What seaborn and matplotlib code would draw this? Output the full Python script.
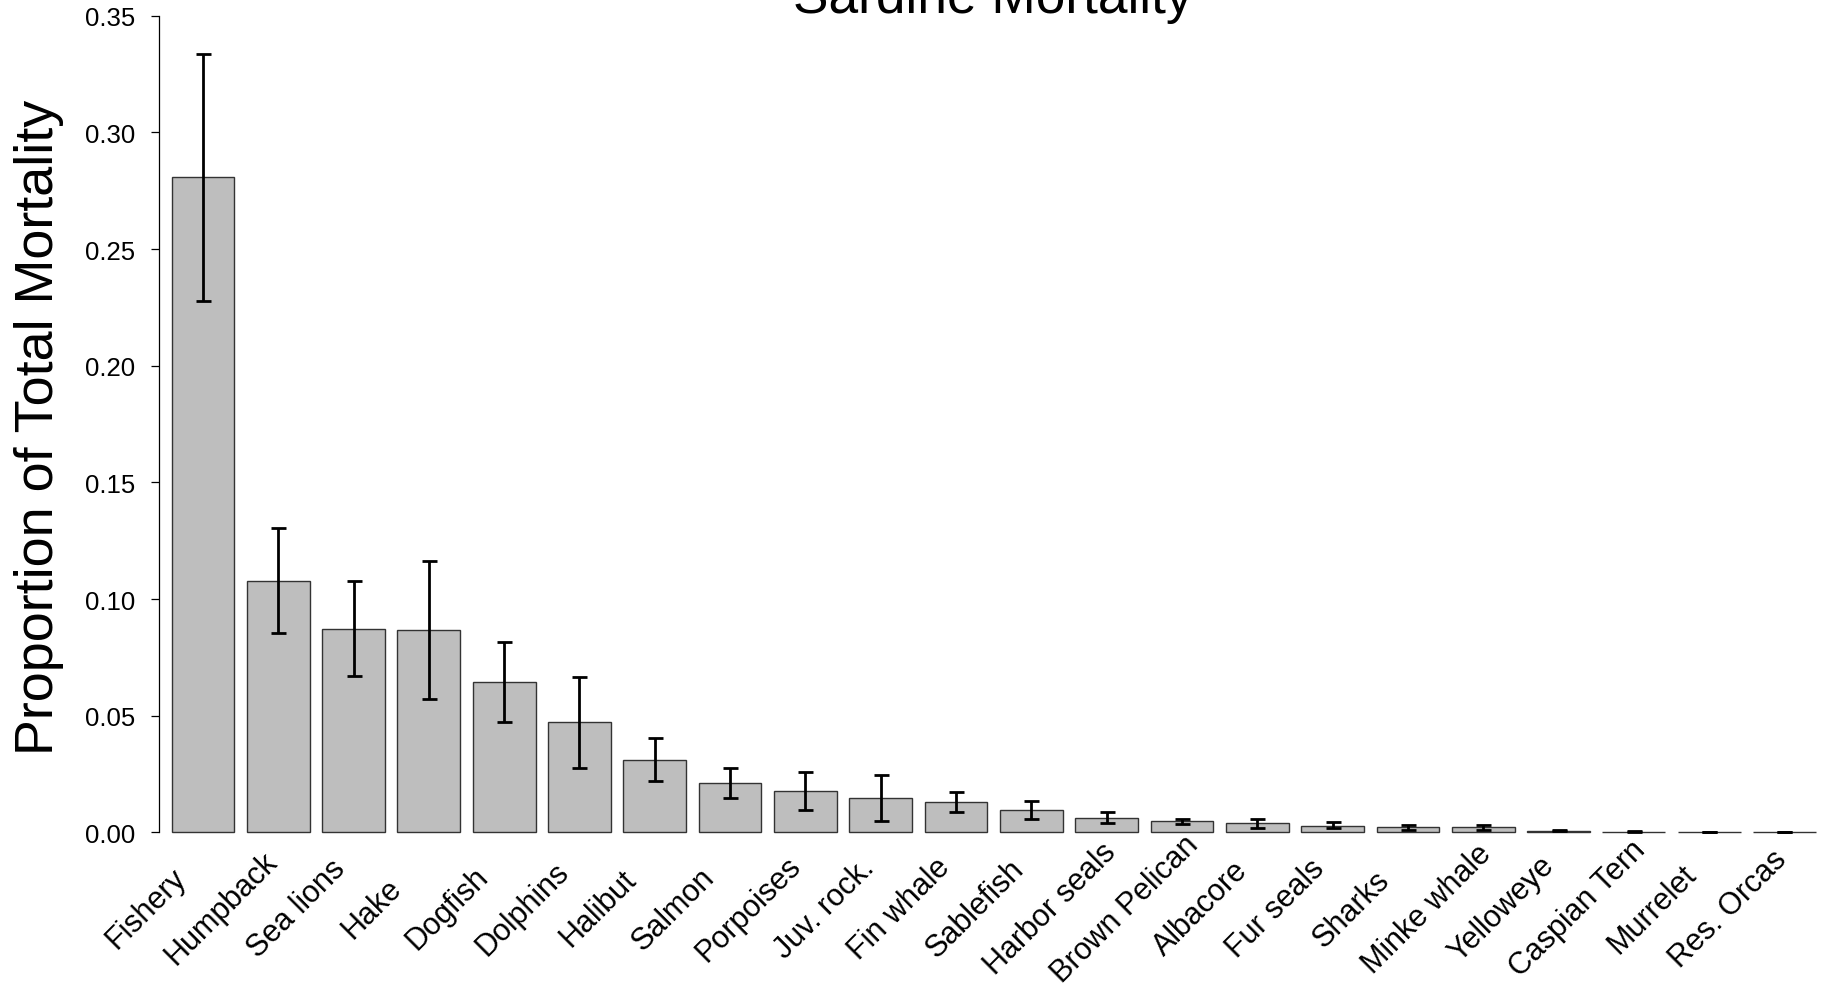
import matplotlib
matplotlib.use("Agg")
import matplotlib.pyplot as plt
import matplotlib.transforms as mtransforms
import numpy as np
import pandas as pd
import seaborn as sns

categories = ["Fishery", "Humpback", "Sea lions", "Hake", "Dogfish", "Dolphins",
              "Halibut", "Salmon", "Porpoises", "Juv. rock.", "Fin whale", "Sablefish",
              "Harbor seals", "Brown Pelican", "Albacore", "Fur seals", "Sharks",
              "Minke whale", "Yelloweye", "Caspian Tern", "Murrelet", "Res. Orcas"]
values = [0.2808, 0.1078, 0.0871, 0.0866, 0.0645, 0.0471,
          0.0311, 0.0211, 0.0178, 0.0147, 0.0129, 0.0096,
          0.0061, 0.0048, 0.0039, 0.0029, 0.0021,
          0.0021, 0.0007, 0.0003, 0.0001, 0.0001]
err_upper = [0.3336, 0.1304, 0.1076, 0.1164, 0.0815, 0.0665,
             0.0404, 0.0277, 0.0260, 0.0246, 0.0171, 0.0135,
             0.0086, 0.0058, 0.0056, 0.0043, 0.0031,
             0.0030, 0.0010, 0.0005, 0.00015, 0.00015]
err_lower = [0.2278, 0.0853, 0.0669, 0.0570, 0.0475, 0.0276,
             0.0219, 0.0147, 0.0097, 0.0047, 0.0088, 0.0056,
             0.0039, 0.0036, 0.0019, 0.0017, 0.0011,
             0.0010, 0.0004, 0.0001, 0.00005, 0.00005]
yticks = [0.00, 0.05, 0.10, 0.15, 0.20, 0.25, 0.30, 0.35]

sns.set_theme(style="white")
plt.rcParams["font.family"] = ["Liberation Sans", "DejaVu Sans"]

df = pd.DataFrame({"cat": categories, "val": values})

fig = plt.figure(figsize=(18.27, 9.87), dpi=100)
ax = fig.add_axes([159 / 1827, 0.1462, 1 - 159 / 1827, 0.8416])

sns.barplot(data=df, x="cat", y="val", color="#BEBEBE", saturation=1,
            edgecolor="#333333", linewidth=1.0, width=0.833, errorbar=None, ax=ax)

xpos = np.arange(len(categories))
vals = np.array(values)
yerr = np.vstack([vals - np.array(err_lower), np.array(err_upper) - vals])
ax.errorbar(xpos, vals, yerr=yerr, fmt="none", ecolor="black", elinewidth=2.0,
            capsize=5.4, capthick=2.0, zorder=5)

ax.set_xlim(-0.583, 21.565)
ax.set_ylim(-0.004, 0.352)

for s in ["top", "right", "bottom"]:
    ax.spines[s].set_visible(False)
ax.spines["left"].set_bounds(0, 0.35)
ax.spines["left"].set_color("black")
ax.spines["left"].set_linewidth(0.9)

ax.set_yticks(yticks)
ax.set_yticklabels([f"{t:.2f}" for t in yticks])
ax.tick_params(axis="y", direction="out", length=5.8, width=0.9, color="black",
               pad=11.5, labelsize=18.5, labelcolor="black", left=True)
ax.tick_params(axis="x", length=0, pad=48, labelsize=22, labelcolor="black")
ax.set_xticks(xpos)
ax.set_xticklabels(categories, rotation=45, ha="center", va="center",
                   rotation_mode="anchor")
offset = mtransforms.ScaledTranslation(-56.5 / 100, 0, fig.dpi_scale_trans)
for lab in ax.get_xticklabels():
    lab.set_transform(lab.get_transform() + offset)

ax.set_xlabel("")
ax.set_ylabel("Proportion of Total Mortality", fontsize=38.8, color="black")
ax.yaxis.set_label_coords(-0.057, 0.5)
ax.set_title("Sardine Mortality", fontsize=38.3, color="black", pad=-1)

fig.savefig("out.png", dpi=100)
